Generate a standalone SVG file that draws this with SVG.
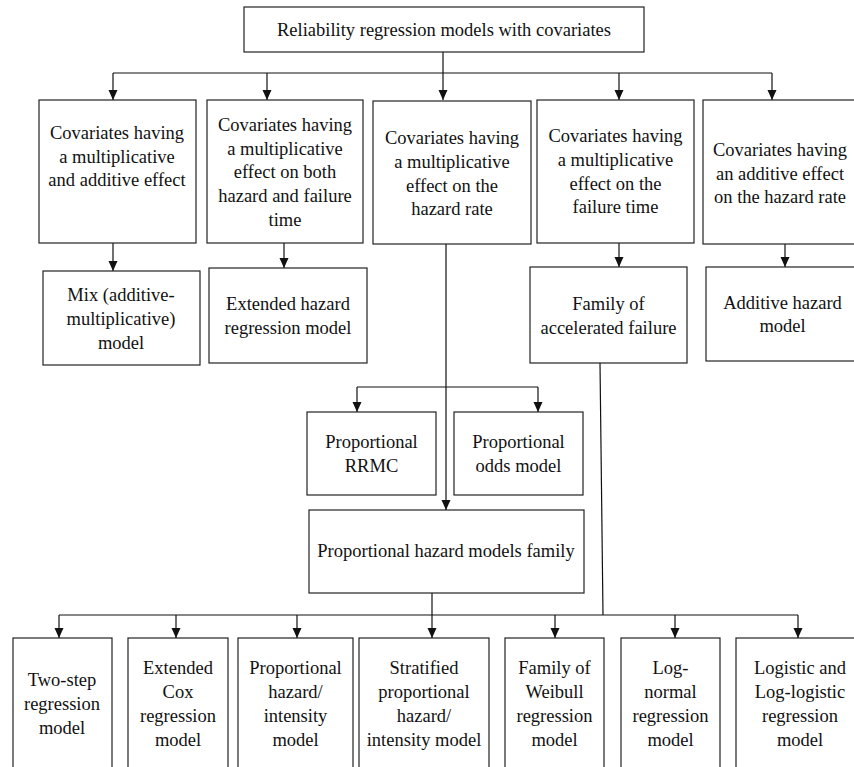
<svg xmlns="http://www.w3.org/2000/svg" width="854" height="767" viewBox="0 0 854 767">
<defs>
<marker id="ah" viewBox="0 0 10 10" refX="10" refY="5" markerWidth="10" markerHeight="10" markerUnits="userSpaceOnUse" orient="auto">
<path d="M0,0.5 L10,5 L0,9.5 Z" fill="#111"/>
</marker>
<style>
rect{fill:#fff;stroke:#222;stroke-width:1.2}
text{font-size:18.5px;fill:#111;text-anchor:middle}
.c path,.c line{fill:none;stroke:#111;stroke-width:1.2}
</style>
</defs>
<rect x="0" y="0" width="854" height="767" style="fill:#fff;stroke:none"/>
<g class="c" id="connectors">
<line x1="443" y1="52" x2="443" y2="100" marker-end="url(#ah)"/>
<line x1="113" y1="73" x2="772" y2="73"/>
<line x1="113" y1="73" x2="113" y2="100" marker-end="url(#ah)"/>
<line x1="267" y1="73" x2="267" y2="100" marker-end="url(#ah)"/>
<line x1="619" y1="73" x2="619" y2="100" marker-end="url(#ah)"/>
<line x1="772" y1="73" x2="772" y2="100" marker-end="url(#ah)"/>
<line x1="113" y1="243" x2="113" y2="271" marker-end="url(#ah)"/>
<line x1="284" y1="243" x2="284" y2="268" marker-end="url(#ah)"/>
<line x1="619" y1="243" x2="619" y2="267" marker-end="url(#ah)"/>
<line x1="785" y1="244" x2="785" y2="267" marker-end="url(#ah)"/>
<line x1="446" y1="244" x2="446" y2="510" marker-end="url(#ah)"/>
<line x1="357" y1="387" x2="538" y2="387"/>
<line x1="357" y1="387" x2="357" y2="412" marker-end="url(#ah)"/>
<line x1="538" y1="387" x2="538" y2="412" marker-end="url(#ah)"/>
<line x1="600" y1="363" x2="603" y2="615"/>
<line x1="432" y1="593" x2="432" y2="638" marker-end="url(#ah)"/>
<line x1="59" y1="615" x2="798" y2="615"/>
<line x1="59" y1="615" x2="59" y2="638" marker-end="url(#ah)"/>
<line x1="176" y1="615" x2="176" y2="638" marker-end="url(#ah)"/>
<line x1="297" y1="615" x2="297" y2="638" marker-end="url(#ah)"/>
<line x1="555" y1="615" x2="555" y2="638" marker-end="url(#ah)"/>
<line x1="675" y1="615" x2="675" y2="638" marker-end="url(#ah)"/>
<line x1="798" y1="615" x2="798" y2="638" marker-end="url(#ah)"/>
</g>
<g font-family="Liberation Serif, Tinos, Times New Roman, DejaVu Serif, serif">
<g id="root"><rect x="244" y="7" width="400" height="45"/><text x="444" y="36">Reliability regression models with covariates</text></g>
<g id="cov-mix"><rect x="39" y="100" width="157" height="143"/>
<text x="117" y="139">Covariates having</text><text x="117" y="162.5">a multiplicative</text><text x="117" y="186">and additive effect</text></g>
<g id="cov-both"><rect x="207" y="100" width="156" height="143"/>
<text x="285" y="131">Covariates having</text><text x="285" y="154.5">a multiplicative</text><text x="285" y="178">effect on both</text><text x="285" y="202">hazard and failure</text><text x="285" y="226">time</text></g>
<g id="cov-hazard"><rect x="373" y="101" width="158" height="143"/>
<text x="452" y="144">Covariates having</text><text x="452" y="168">a multiplicative</text><text x="452" y="192">effect on the</text><text x="452" y="215">hazard rate</text></g>
<g id="cov-failure"><rect x="537" y="100" width="157" height="143"/>
<text x="615.5" y="142">Covariates having</text><text x="615.5" y="166">a multiplicative</text><text x="615.5" y="190">effect on the</text><text x="615.5" y="213">failure time</text></g>
<g id="cov-additive"><rect x="703" y="100" width="157" height="144"/>
<text x="780" y="156">Covariates having</text><text x="780" y="180">an additive effect</text><text x="780" y="203">on the hazard rate</text></g>
<g id="mix"><rect x="43" y="271" width="157" height="94"/>
<text x="121" y="301">Mix (additive-</text><text x="121" y="325">multiplicative)</text><text x="121" y="349">model</text></g>
<g id="ext-hazard"><rect x="209" y="268" width="158" height="95"/>
<text x="288" y="310">Extended hazard</text><text x="288" y="333.5">regression model</text></g>
<g id="accel"><rect x="530" y="267" width="157" height="96"/>
<text x="608.5" y="310">Family of</text><text x="608.5" y="334">accelerated failure</text></g>
<g id="add-hazard"><rect x="706" y="267" width="154" height="94"/>
<text x="782.5" y="309">Additive hazard</text><text x="782.5" y="332">model</text></g>
<g id="prop-rrmc"><rect x="307" y="412" width="129" height="83"/>
<text x="371.5" y="448">Proportional</text><text x="371.5" y="472">RRMC</text></g>
<g id="prop-odds"><rect x="454" y="412" width="129" height="83"/>
<text x="518.5" y="448">Proportional</text><text x="518.5" y="472">odds model</text></g>
<g id="ph-family"><rect x="309" y="510" width="275" height="83"/>
<text x="446" y="557">Proportional hazard models family</text></g>
<g id="two-step"><rect x="13" y="638" width="99" height="140"/>
<text x="62" y="686">Two-step</text><text x="62" y="710">regression</text><text x="62" y="734">model</text></g>
<g id="ext-cox"><rect x="128" y="638" width="100" height="140"/>
<text x="178" y="674">Extended</text><text x="178" y="698">Cox</text><text x="178" y="722">regression</text><text x="178" y="746">model</text></g>
<g id="ph-int"><rect x="238" y="638" width="115" height="140"/>
<text x="295.5" y="674">Proportional</text><text x="295.5" y="698">hazard/</text><text x="295.5" y="722">intensity</text><text x="295.5" y="746">model</text></g>
<g id="strat"><rect x="359" y="638" width="130" height="140"/>
<text x="424" y="674">Stratified</text><text x="424" y="698">proportional</text><text x="424" y="722">hazard/</text><text x="424" y="746">intensity model</text></g>
<g id="weibull"><rect x="505" y="638" width="99" height="140"/>
<text x="554.5" y="674">Family of</text><text x="554.5" y="698">Weibull</text><text x="554.5" y="722">regression</text><text x="554.5" y="746">model</text></g>
<g id="lognormal"><rect x="621" y="638" width="99" height="140"/>
<text x="670.5" y="674">Log-</text><text x="670.5" y="698">normal</text><text x="670.5" y="722">regression</text><text x="670.5" y="746">model</text></g>
<g id="logistic"><rect x="736" y="638" width="128" height="140"/>
<text x="800" y="674">Logistic and</text><text x="800" y="698">Log-logistic</text><text x="800" y="722">regression</text><text x="800" y="746">model</text></g>
</g>
</svg>
